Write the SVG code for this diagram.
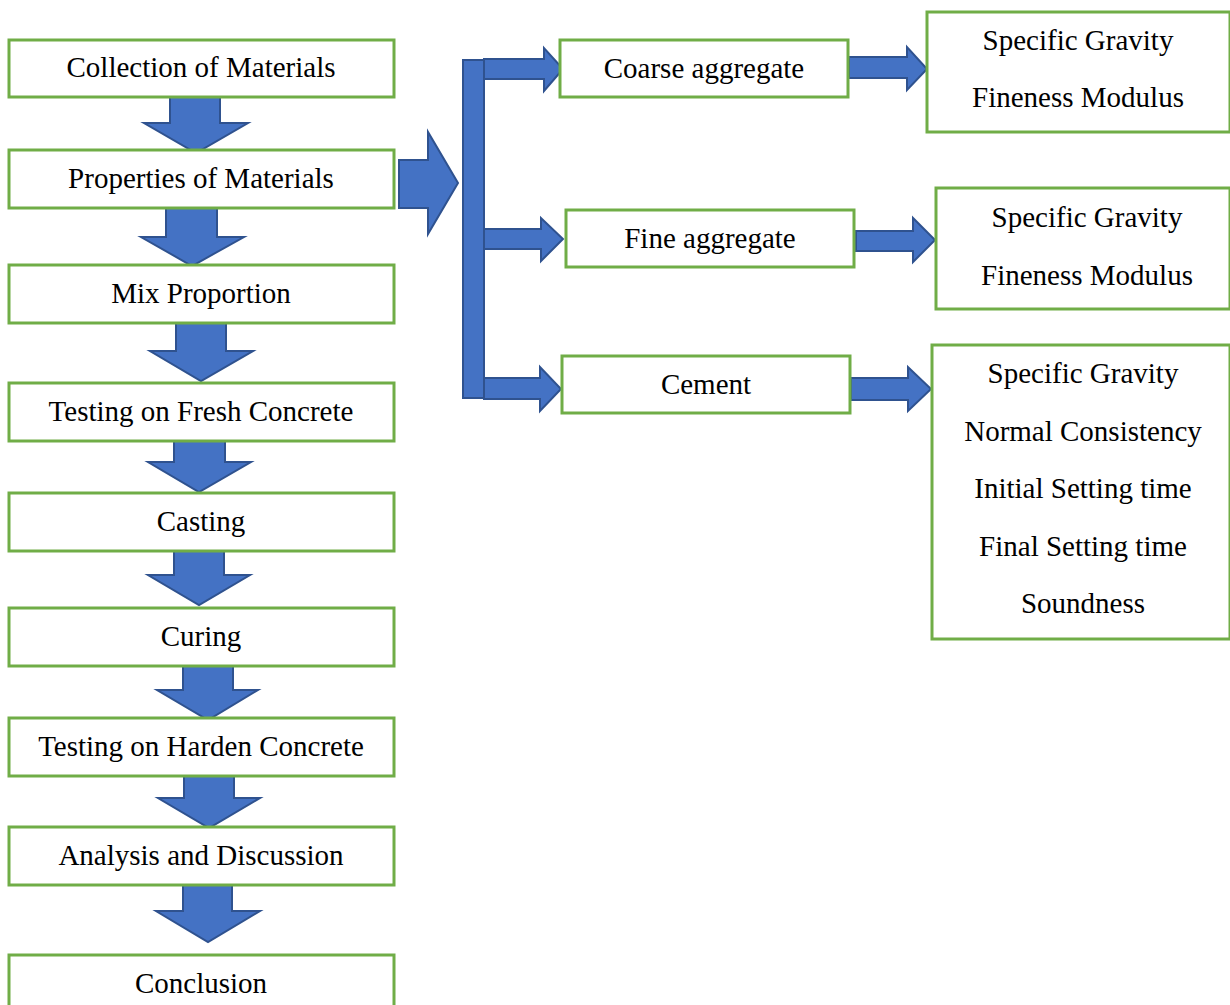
<svg xmlns="http://www.w3.org/2000/svg" width="1230" height="1005" viewBox="0 0 1230 1005">
<style>
.box{fill:#fff;stroke:#70AD47;stroke-width:3}
.arr{fill:#4472C4;stroke:#2F528F;stroke-width:2;stroke-linejoin:miter}
.t{font-family:'Liberation Serif','Times New Roman',serif;font-size:29px;fill:#000;text-anchor:middle}
</style>
<rect width="1230" height="1005" fill="#fff"/>
<g id="connectors">
<polygon class="arr" points="170,95 220,95 220,123 248,123 196,153 144,123 170,123"/>
<polygon class="arr" points="166,207 217,207 217,237 244,237 192,266 141,237 166,237"/>
<polygon class="arr" points="176,322 226,322 226,351 253,351 201,381 150,351 176,351"/>
<polygon class="arr" points="174,433 225,433 225,462 251,462 199,492 148,462 174,462"/>
<polygon class="arr" points="174,547 224,547 224,575 250,575 199,605 148,575 174,575"/>
<polygon class="arr" points="183,661 233,661 233,690 258,690 208,720 157,690 183,690"/>
<polygon class="arr" points="184,770 234,770 234,798 260,798 209,828 158,798 184,798"/>
<polygon class="arr" points="183,883 232,883 232,911 260,911 208,942 156,911 183,911"/>
<polygon class="arr" points="399,160 428,160 428,132 458,183 428,234 428,208 399,208"/>
<rect class="arr" x="463" y="60" width="21" height="338"/>
<polygon class="arr" points="484,59 544,59 544,48 563,69 544,91 544,79 484,79"/>
<polygon class="arr" points="484,229 541,229 541,218 563,239 541,261 541,249 484,249"/>
<polygon class="arr" points="484,378 540,378 540,367 561,389 540,411 540,399 484,399"/>
<polygon class="arr" points="849,57 907,57 907,47 927,69 907,90 907,78 849,78"/>
<polygon class="arr" points="856,231 913,231 913,218 935,240 913,262 913,251 856,251"/>
<polygon class="arr" points="851,378 908,378 908,367 931,389 908,411 908,400 851,400"/>
</g>
<g id="n1"><rect class="box" x="9" y="40" width="385" height="57"/><text class="t" x="201" y="77">Collection of Materials</text></g>
<g id="n2"><rect class="box" x="9" y="150" width="385" height="58"/><text class="t" x="201" y="188">Properties of Materials</text></g>
<g id="n3"><rect class="box" x="9" y="265" width="385" height="58"/><text class="t" x="201" y="303">Mix Proportion</text></g>
<g id="n4"><rect class="box" x="9" y="383" width="385" height="58"/><text class="t" x="201" y="421">Testing on Fresh Concrete</text></g>
<g id="n5"><rect class="box" x="9" y="493" width="385" height="58"/><text class="t" x="201" y="531">Casting</text></g>
<g id="n6"><rect class="box" x="9" y="608" width="385" height="58"/><text class="t" x="201" y="646">Curing</text></g>
<g id="n7"><rect class="box" x="9" y="718" width="385" height="58"/><text class="t" x="201" y="756">Testing on Harden Concrete</text></g>
<g id="n8"><rect class="box" x="9" y="827" width="385" height="58"/><text class="t" x="201" y="865">Analysis and Discussion</text></g>
<g id="n9"><rect class="box" x="9" y="955" width="385" height="60"/><text class="t" x="201" y="993">Conclusion</text></g>
<g id="coarse"><rect class="box" x="560" y="40" width="288" height="57"/><text class="t" x="704" y="78">Coarse aggregate</text></g>
<g id="fine"><rect class="box" x="566" y="210" width="288" height="57"/><text class="t" x="710" y="248">Fine aggregate</text></g>
<g id="cement"><rect class="box" x="562" y="356" width="288" height="57"/><text class="t" x="706" y="394">Cement</text></g>
<g id="coarse-props"><rect class="box" x="927" y="12" width="303" height="120"/><text class="t" x="1078" y="50">Specific Gravity</text><text class="t" x="1078" y="107">Fineness Modulus</text></g>
<g id="fine-props"><rect class="box" x="936" y="188" width="294" height="121"/><text class="t" x="1087" y="227">Specific Gravity</text><text class="t" x="1087" y="285">Fineness Modulus</text></g>
<g id="cement-props"><rect class="box" x="932" y="345" width="298" height="294"/><text class="t" x="1083" y="383">Specific Gravity</text><text class="t" x="1083" y="441">Normal Consistency</text><text class="t" x="1083" y="498">Initial Setting time</text><text class="t" x="1083" y="556">Final Setting time</text><text class="t" x="1083" y="613">Soundness</text></g>
</svg>
